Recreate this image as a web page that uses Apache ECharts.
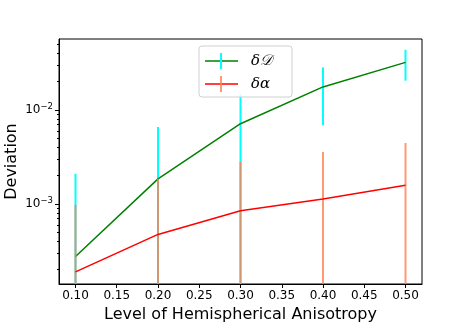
<html>
    <head>
        <meta charset="utf-8">
        <script src="https://cdn.jsdelivr.net/npm/echarts@6/dist/echarts.min.js"></script>
        <style>
            html, body { margin: 0; padding: 0; background: #fff; }
            #main { width: 468px; height: 324px; }
        </style>
    </head>
    <body>
        <div id="main"></div>
        <script>

        // levels of hemispherical anisotropy
        var levels = [0.1, 0.2, 0.3, 0.4, 0.5];
        // deviation of D and its error
        var devD = [2.77e-4, 1.85e-3, 7.15e-3, 0.0176, 0.0321];
        var errD = [1.82e-3, 4.74e-3, 7.5e-3, 0.0107, 0.0116];
        // deviation of alpha and its error
        var devA = [1.90e-4, 4.75e-4, 8.49e-4, 1.13e-3, 1.58e-3];
        var errA = [7.9e-4, 1.38e-3, 1.97e-3, 2.44e-3, 2.88e-3];
        // axis ticks
        var xTicks = [0.1, 0.15, 0.2, 0.25, 0.3, 0.35, 0.4, 0.45, 0.5];
        var yMajor = [1e-3, 1e-2];
        var yMinor = [2e-4, 3e-4, 4e-4, 5e-4, 6e-4, 7e-4, 8e-4, 9e-4,
                      2e-3, 3e-3, 4e-3, 5e-3, 6e-3, 7e-3, 8e-3, 9e-3,
                      2e-2, 3e-2, 4e-2, 5e-2];

        var yMin = Math.log10(1.41e-4);
        var yMax = Math.log10(5.69e-2);
        var font = 'DejaVu Sans';

        function lg(v) {
            return Math.log10(v);
        }

        function lineData(vals) {
            return levels.map(function (x, i) {
                return [x, lg(vals[i])];
            });
        }

        function barData(vals, errs) {
            return levels.map(function (x, i) {
                var lo = vals[i] - errs[i];
                return [x, lo > 0 ? lg(lo) : yMin - 1, lg(vals[i] + errs[i])];
            });
        }

        function errRender(color, opacity) {
            return function (params, api) {
                var p1 = api.coord([api.value(0), Math.max(api.value(1), yMin)]);
                var p2 = api.coord([api.value(0), Math.min(api.value(2), yMax)]);
                return {
                    type: 'line',
                    shape: { x1: p1[0], y1: p1[1], x2: p2[0], y2: p2[1] },
                    style: { stroke: color, lineWidth: 2, opacity: opacity }
                };
            };
        }

        var myChart = echarts.init(document.getElementById('main'));

        var option = {
            animation: false,
            backgroundColor: '#fff',
            textStyle: { fontFamily: font },
            grid: {
                left: 59,
                top: 39,
                right: 46,
                bottom: 40,
                outerBoundsMode: 'none',
                containLabel: false,
                show: true,
                borderColor: '#000',
                borderWidth: 1,
                backgroundColor: 'transparent'
            },
            xAxis: {
                type: 'value',
                min: 0.08,
                max: 0.52,
                name: 'Level of Hemispherical Anisotropy',
                nameLocation: 'middle',
                nameGap: 23,
                nameMoveOverlap: false,
                nameTextStyle: { color: '#000', fontSize: 16, fontFamily: font },
                splitLine: { show: false },
                axisLine: { lineStyle: { color: '#000' } },
                axisTick: { length: 4, customValues: xTicks, lineStyle: { color: '#000' } },
                axisLabel: {
                    customValues: xTicks,
                    color: '#000',
                    fontSize: 12,
                    margin: 6,
                    formatter: function (v) { return v.toFixed(2); }
                }
            },
            yAxis: [
                {
                    type: 'value',
                    min: yMin,
                    max: yMax,
                    name: 'Deviation',
                    nameLocation: 'middle',
                    nameGap: 39,
                    nameMoveOverlap: false,
                    nameTextStyle: { color: '#000', fontSize: 16, fontFamily: font },
                    splitLine: { show: false },
                    axisLine: { lineStyle: { color: '#000' } },
                    axisTick: { length: 4, customValues: yMajor.map(lg), lineStyle: { color: '#000' } },
                    axisLabel: {
                        customValues: yMajor.map(lg),
                        margin: 6,
                        formatter: function (v) {
                            return '{b|10}{s|\u2212' + Math.round(Math.abs(v)) + '}';
                        },
                        rich: {
                            b: { fontSize: 12, color: '#000', fontFamily: font },
                            s: { fontSize: 8.5, color: '#000', fontFamily: font, verticalAlign: 'top', padding: [0, 0, 6, 0] }
                        }
                    }
                },
                {
                    type: 'value',
                    min: yMin,
                    max: yMax,
                    position: 'left',
                    splitLine: { show: false },
                    axisLine: { show: false },
                    axisTick: { length: 2, customValues: yMinor.map(lg), lineStyle: { color: '#000' } },
                    axisLabel: { show: false, customValues: yMinor.map(lg) }
                }
            ],
            series: [
                {
                    type: 'custom',
                    name: 'errD',
                    z: 2,
                    renderItem: errRender('#00ffff', 1),
                    data: barData(devD, errD)
                },
                {
                    type: 'line',
                    name: 'devD',
                    z: 3,
                    showSymbol: false,
                    lineStyle: { color: '#008000', width: 1.5 },
                    data: lineData(devD)
                },
                {
                    type: 'custom',
                    name: 'errA',
                    z: 4,
                    renderItem: errRender('#ff7f50', 0.8),
                    data: barData(devA, errA)
                },
                {
                    type: 'line',
                    name: 'devA',
                    z: 5,
                    showSymbol: false,
                    lineStyle: { color: '#ff0000', width: 1.5 },
                    data: lineData(devA)
                }
            ],
            graphic: [
                {
                    type: 'rect',
                    z: 100,
                    shape: { x: 199, y: 46, width: 93, height: 51, r: 3 },
                    style: { fill: 'rgba(255,255,255,0.8)', stroke: '#d0d0d0', lineWidth: 1 }
                },
                { type: 'line', z: 101, shape: { x1: 205, y1: 61, x2: 238, y2: 61 }, style: { stroke: '#008000', lineWidth: 1.5 } },
                { type: 'line', z: 101, shape: { x1: 221, y1: 53, x2: 221, y2: 69 }, style: { stroke: '#00ffff', lineWidth: 2 } },
                { type: 'line', z: 101, shape: { x1: 205, y1: 84, x2: 238, y2: 84 }, style: { stroke: '#ff0000', lineWidth: 1.5 } },
                { type: 'line', z: 101, shape: { x1: 221, y1: 76, x2: 221, y2: 92 }, style: { stroke: '#ff7f50', lineWidth: 2, opacity: 0.8 } },
                {
                    type: 'text', z: 101, x: 251, y: 61,
                    style: { text: '\u03b4\ud835\udc9f', fill: '#000', font: 'italic 15px DejaVu Serif', verticalAlign: 'middle' }
                },
                {
                    type: 'text', z: 101, x: 251, y: 84,
                    style: { text: '\u03b4\u03b1', fill: '#000', font: 'italic 15px DejaVu Serif', verticalAlign: 'middle' }
                }
            ]
        };

        myChart.setOption(option);

        </script>
    </body>
</html>
